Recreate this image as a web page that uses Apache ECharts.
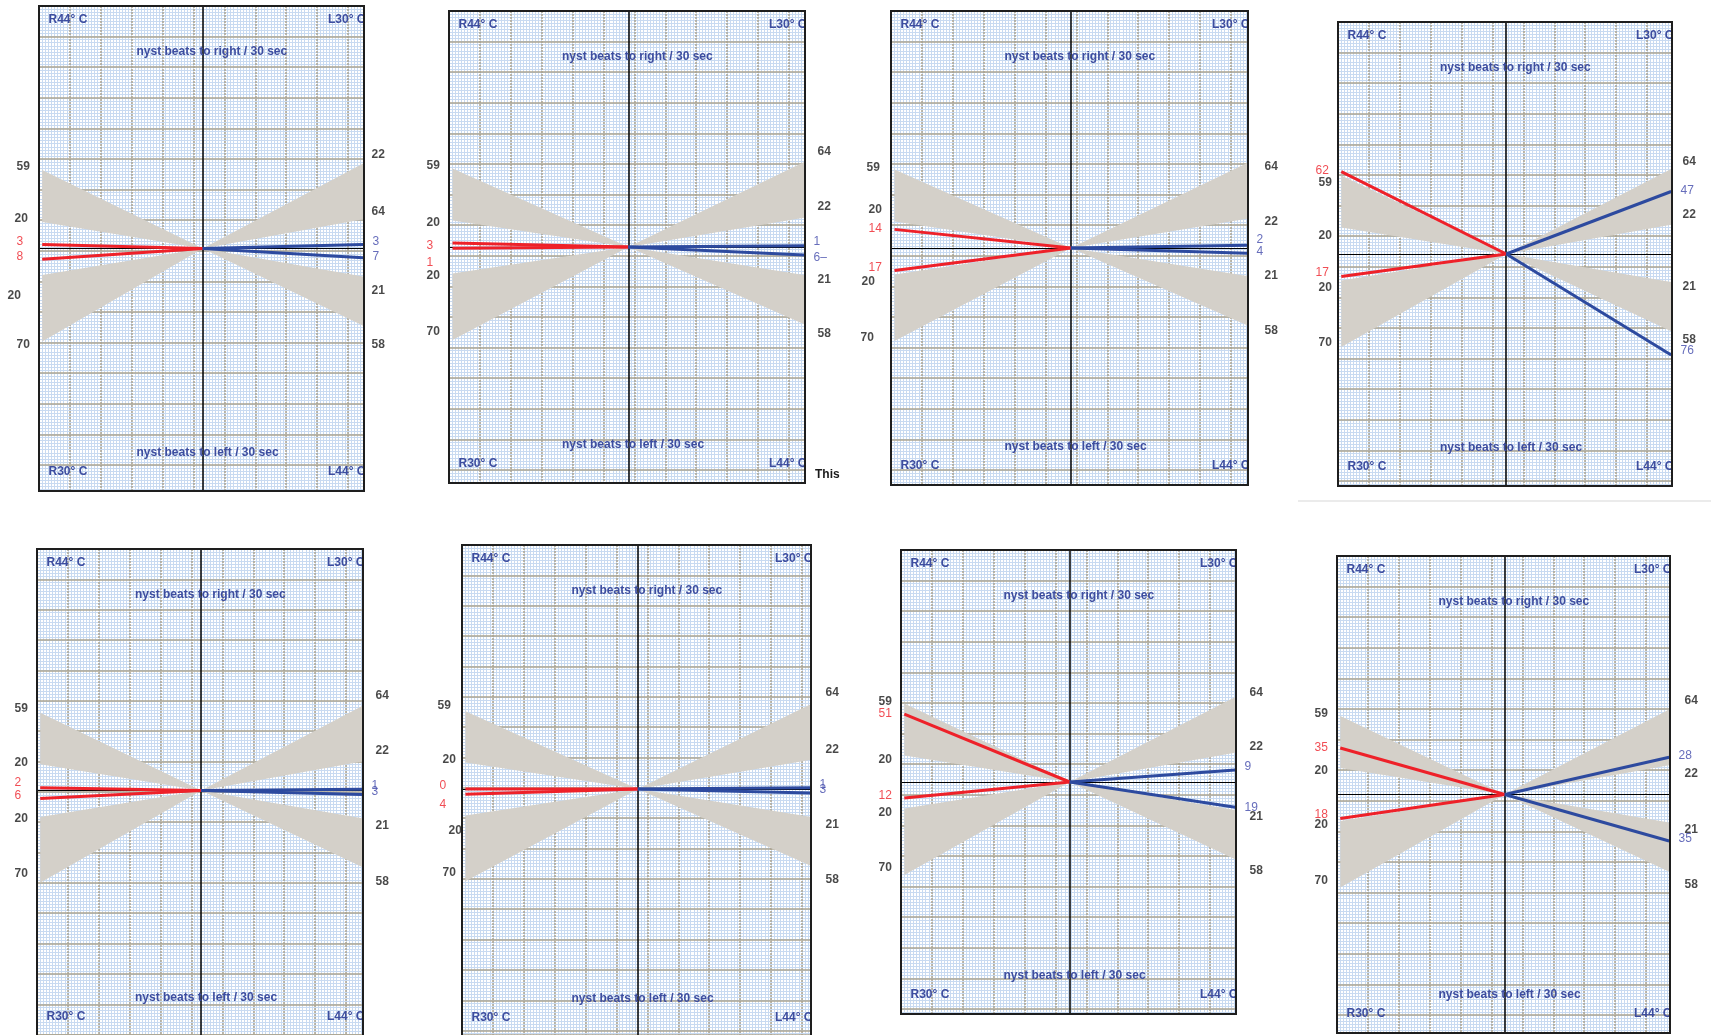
<!DOCTYPE html>
<html>
<head>
<meta charset="utf-8">
<script src="https://cdn.jsdelivr.net/npm/echarts@6/dist/echarts.min.js"></script>
<style>
  html, body { margin: 0; padding: 0; background: #ffffff; }
  #chart { width: 1711px; height: 1035px; }
</style>
</head>
<body>
<div id="chart"></div>
<script>
// Bithermal caloric test, eight recordings.
// Nystagmus beats per 30 s for each irrigation (R44 / R30 on the left half, L30 / L44 on the right half).
const r44Beats = [3, 3, 14, 62, 2, 0, 51, 35];
const r30Beats = [8, 1, 17, 17, 6, 4, 12, 18];
const l30Beats = [3, 1, 2, 47, 1, 1, 9, 28];
const l44Beats = [7, 6, 4, 76, 3, 3, 19, 35];
const l44TextOverride = { 1: '6–' };

// Normal ranges (grey wedges), given as [inner, outer] beats at the outer edge.
const normR44 = [20, 59];
const normR30 = [20, 70];
const normL30 = [22, 64];
const normL44 = [21, 58];

// Scale labels printed beside the wedges.
const leftScaleLabels = ['59', '20', '20', '70'];
const rightScaleLabels = [
  ['22', '64', '21', '58'],
  ['64', '22', '21', '58'],
  ['64', '22', '21', '58'],
  ['64', '22', '21', '58'],
  ['64', '22', '21', '58'],
  ['64', '22', '21', '58'],
  ['64', '22', '21', '58'],
  ['64', '22', '21', '58']
];

// ---- layout & style ----
const PANELS = [            // left, top, width, height (px)
  [39, 6, 325, 485],
  [449, 11, 356, 472],
  [891, 11, 357, 474],
  [1338, 22, 334, 464],
  [37, 549, 326, 490],
  [462, 545, 349, 494],
  [901, 550, 335, 464],
  [1337, 556, 333, 477]
];
// vertical half-extent used for the data scale (keeps the centre line where it is)
const HALF_HEIGHTS = [242.5, 236, 237, 232, 243.5, 246, 232, 238.5];
const PX_PER_UNIT = 1.33;
const MAJOR_X = 30.9, MAJOR_Y = 30.6;
const X_MIN = -1.02, X_MAX = 1.005;
const FONT = '"Liberation Sans", Arial, sans-serif';
const RED = '#ee2129', BLUE = '#2d4a9f', WEDGE = '#d4d0c9';
const TEXT_BLUE = '#3d4d9f', LABEL_BLUE = '#4048aa';
const MINOR_COLOR = '#c8daf1', MAJOR_COLOR = '#aca490';

// label nudges in px (dy), per panel
const leftScaleDy = [[-3,-3,21,4],[-2,3,3,-8],[-1,-11,8,-3],[8,9,8,-4],[-3,-1,2,-9],[-5,-2,16,-8],[-1,5,5,-7],[-2,3,4,-6]];
const leftScaleDx = [[0,-2,-9,0],[0,0,0,0],[-2,0,-7,-8],[3,3,3,3],[0,0,0,0],[-2,3,9,3],[0,0,0,0],[0,0,0,0]];
const rightScaleDy = [[-8,-7,15,20],[-10,-11,5,10],[4,3,0,6],[-7,-10,5,9],[-10,-10,8,15],[-11,-10,8,15],[-4,-6,7,12],[-8,9,8,14]];
const rightScaleDx = [8, 13, 17, 11, 13, 15, 14, 15];
const valueDy = [[-2,-2,-2,-1],[3,15,-3,3],[0,-2,-5,-1],[0,-3,0,-4],[-5,-2,-3,-2],[-3,11,-3,-3],[0,-2,-3,1],[0,-3,-1,-2]];

const grids = [], xAxes = [], yAxes = [], series = [], graphics = [];

function hiddenAxisParts() {
  return { axisLine: { show: false }, axisTick: { show: false }, axisLabel: { show: false } };
}

function labelItem(x, y, text, opts) {
  return {
    value: [x, y],
    label: {
      show: true,
      formatter: text,
      position: [opts.dx, 0],
      offset: [0, opts.dy || 0],
      align: 'left',
      verticalAlign: 'middle',
      color: opts.color,
      fontFamily: FONT,
      fontSize: 12,
      fontWeight: opts.bold ? 'bold' : 'normal'
    }
  };
}

PANELS.forEach((box, i) => {
  const [left, top, w, h] = box;
  const half = HALF_HEIGHTS[i];
  const yTop = half / PX_PER_UNIT;
  const yBottom = (h - half) / PX_PER_UNIT;
  const base = i * 3;
  const dataX = base + 2, dataY = base + 2;

  grids.push({ left, top, width: w, height: h, show: true, backgroundColor: '#ffffff', borderWidth: 0 });

  // graph paper: minor (blue) and major (grey) rulings
  xAxes.push(Object.assign({ gridIndex: i, type: 'value', min: 0, max: w / (MAJOR_X / 10), interval: 1, z: 0, silent: true,
    splitLine: { show: true, lineStyle: { color: MINOR_COLOR, width: 1 } } }, hiddenAxisParts()));
  yAxes.push(Object.assign({ gridIndex: i, type: 'value', min: 0, max: h / (MAJOR_Y / 10), interval: 1, inverse: true, z: 0, silent: true,
    splitLine: { show: true, lineStyle: { color: MINOR_COLOR, width: 1 } } }, hiddenAxisParts()));
  xAxes.push(Object.assign({ gridIndex: i, type: 'value', min: 0, max: w / MAJOR_X, interval: 1, z: 1, silent: true,
    splitLine: { show: true, lineStyle: { color: MAJOR_COLOR, width: 1.5, type: [2, 1] } } }, hiddenAxisParts()));
  yAxes.push(Object.assign({ gridIndex: i, type: 'value', min: 0, max: h / MAJOR_Y, interval: 1, inverse: true, z: 1, silent: true,
    splitLine: { show: true, lineStyle: { color: MAJOR_COLOR, width: 1.5 } } }, hiddenAxisParts()));

  // data axes: the centre cross
  xAxes.push({ gridIndex: i, type: 'value', min: X_MIN, max: X_MAX, z: 2,
    axisLine: { show: true, onZero: true, onZeroAxisIndex: dataY, lineStyle: { color: '#000', width: 1 } },
    axisTick: { show: false }, axisLabel: { show: false }, splitLine: { show: false } });
  yAxes.push({ gridIndex: i, type: 'value', min: -yBottom, max: yTop, z: 2,
    axisLine: { show: true, onZero: true, onZeroAxisIndex: dataX, lineStyle: { color: '#000', width: 1.5 } },
    axisTick: { show: false }, axisLabel: { show: false }, splitLine: { show: false } });

  // normal-range wedges
  series.push({
    type: 'custom', xAxisIndex: dataX, yAxisIndex: dataY, z: 3, silent: true, animation: false,
    data: [
      [-1, normR44[0], normR44[1]],
      [-1, -normR30[0], -normR30[1]],
      [1, normL30[0], normL30[1]],
      [1, -normL44[0], -normL44[1]]
    ],
    renderItem: function (params, api) {
      const c = api.coord([0, 0]);
      const a = api.coord([api.value(0), api.value(1)]);
      const b = api.coord([api.value(0), api.value(2)]);
      return { type: 'polygon', shape: { points: [c, a, b] }, style: { fill: WEDGE } };
    }
  });

  // response lines
  const lines = [
    { data: [[-1, r44Beats[i]], [0, 0]], color: RED },
    { data: [[-1, -r30Beats[i]], [0, 0]], color: RED },
    { data: [[0, 0], [1, l30Beats[i]]], color: BLUE },
    { data: [[0, 0], [1, -l44Beats[i]]], color: BLUE }
  ];
  lines.forEach(l => series.push({
    type: 'line', xAxisIndex: dataX, yAxisIndex: dataY, z: 4, silent: true, animation: false,
    symbol: 'none', data: l.data, lineStyle: { color: l.color, width: 3 }
  }));

  // scale and value labels
  const leftVals = [normR44[1], normR44[0], -normR30[0], -normR30[1]];
  const rightVals = [normL30[1], normL30[0], -normL44[0], -normL44[1]];
  const labels = [];
  leftVals.forEach((v, k) => labels.push(labelItem(X_MIN, v, leftScaleLabels[k],
    { dx: -22 + leftScaleDx[i][k], dy: leftScaleDy[i][k], color: '#1a1a1a', bold: true })));
  rightVals.forEach((v, k) => labels.push(labelItem(X_MAX, v, rightScaleLabels[i][k],
    { dx: rightScaleDx[i], dy: rightScaleDy[i][k], color: '#1a1a1a', bold: true })));
  labels.push(labelItem(X_MIN, r44Beats[i], String(r44Beats[i]), { dx: -22, dy: valueDy[i][0], color: RED }));
  labels.push(labelItem(X_MIN, -r30Beats[i], String(r30Beats[i]), { dx: -22, dy: valueDy[i][1], color: RED }));
  labels.push(labelItem(X_MAX, l30Beats[i], String(l30Beats[i]), { dx: 9, dy: valueDy[i][2], color: LABEL_BLUE }));
  labels.push(labelItem(X_MAX, -l44Beats[i], l44TextOverride[i] || String(l44Beats[i]), { dx: 9, dy: valueDy[i][3], color: LABEL_BLUE }));
  series.push({
    type: 'scatter', xAxisIndex: dataX, yAxisIndex: dataY, z: 5, silent: true, animation: false, clip: false,
    symbolSize: 1, itemStyle: { color: 'rgba(0,0,0,0)' }, data: labels
  });

  // panel captions and frame (captions are anchored to the centre line and the paper edges)
  const right = left + w, cx = left + w / 2, cy = top + half;
  const txt = (text, x, y, align) => ({
    type: 'text', z: 50, silent: true,
    style: { text, x, y, align, verticalAlign: 'middle', fill: TEXT_BLUE, font: 'bold 12px ' + FONT }
  });
  const lowEdge = cy + half;
  graphics.push(txt('R44° C', left + 9.5, top + 13.5, 'left'));
  graphics.push(txt('L30° C', right + 1.5, top + 13.5, 'right'));
  graphics.push(txt('R30° C', left + 9.5, lowEdge - 19, 'left'));
  graphics.push(txt('L44° C', right + 1.5, lowEdge - 19, 'right'));
  graphics.push(txt('nyst beats to right / 30 sec', cx - 65, top + 46, 'left'));
  graphics.push(txt('nyst beats to left / 30 sec', cx - 65, lowEdge - 38, 'left'));
  graphics.push({
    type: 'rect', z: 100, silent: true,
    shape: { x: left, y: top, width: w, height: h },
    style: { fill: null, stroke: '#1e1e1e', lineWidth: 2 }
  });
});

graphics.push({
  type: 'text', z: 50, silent: true,
  style: { text: 'This', x: 815, y: 475, align: 'left', verticalAlign: 'middle', fill: '#1a1a1a', font: 'bold 12px ' + FONT }
});
graphics.push({
  type: 'line', z: 1, silent: true,
  shape: { x1: 1298, y1: 501, x2: 1711, y2: 501 },
  style: { stroke: '#ebebeb', lineWidth: 2 }
});

const chart = echarts.init(document.getElementById('chart'), null, { renderer: 'canvas' });
chart.setOption({
  animation: false,
  backgroundColor: '#ffffff',
  grid: grids,
  xAxis: xAxes,
  yAxis: yAxes,
  series: series,
  graphic: { elements: graphics }
});
</script>
</body>
</html>
